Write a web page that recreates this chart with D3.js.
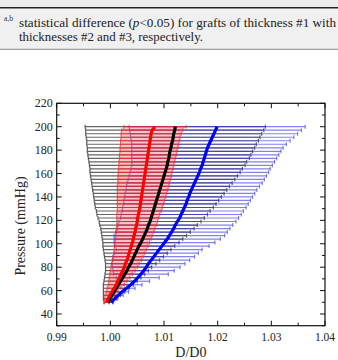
<!DOCTYPE html>
<html><head><meta charset="utf-8">
<script src="https://cdn.jsdelivr.net/npm/d3@7"></script>
<style>html,body{margin:0;padding:0;background:#fff;}svg{display:block;}</style>
</head><body>
<script>
// ---- data ----
const pressure = [50,53,56,59,62,65,68,71,74,77,80,83,86,89,92,95,98,101,104,107,110,113,116,119,122,125,128,131,134,137,140,143,146,149,152,155,158,161,164,167,170,173,176,179,182,185,188,191,194,197,200];
const blackMean = [0.9996,0.9999,1.0003,1.0007,1.0011,1.0015,1.0019,1.0023,1.0027,1.0031,1.0034,1.0038,1.0041,1.0044,1.0047,1.0050,1.0053,1.0057,1.0060,1.0063,1.0066,1.0069,1.0071,1.0074,1.0076,1.0078,1.0080,1.0082,1.0084,1.0086,1.0088,1.0090,1.0092,1.0094,1.0096,1.0098,1.0100,1.0102,1.0104,1.0106,1.0107,1.0109,1.0110,1.0111,1.0113,1.0114,1.0116,1.0117,1.0118,1.0120,1.0121];
const blackSD = [0.0008,0.0012,0.0016,0.0020,0.0024,0.0028,0.0031,0.0034,0.0037,0.0040,0.0043,0.0047,0.0051,0.0055,0.0059,0.0063,0.0067,0.0071,0.0075,0.0079,0.0083,0.0087,0.0091,0.0095,0.0099,0.0103,0.0106,0.0110,0.0113,0.0116,0.0119,0.0122,0.0125,0.0128,0.0131,0.0134,0.0137,0.0140,0.0142,0.0145,0.0147,0.0150,0.0152,0.0154,0.0156,0.0158,0.0160,0.0162,0.0164,0.0166,0.0168];
const redMean = [0.9993,0.9996,0.9999,1.0003,1.0007,1.0011,1.0014,1.0017,1.0020,1.0023,1.0026,1.0028,1.0031,1.0033,1.0035,1.0037,1.0039,1.0041,1.0043,1.0044,1.0046,1.0047,1.0049,1.0050,1.0051,1.0052,1.0054,1.0055,1.0056,1.0057,1.0058,1.0059,1.0060,1.0061,1.0062,1.0063,1.0064,1.0065,1.0066,1.0067,1.0068,1.0069,1.0070,1.0071,1.0072,1.0073,1.0074,1.0075,1.0076,1.0078,1.0083];
const redSD = [0.0004,0.0007,0.0009,0.0011,0.0013,0.0015,0.0017,0.0019,0.0021,0.0023,0.0025,0.0026,0.0027,0.0028,0.0029,0.0030,0.0031,0.0032,0.0033,0.0034,0.0035,0.0036,0.0037,0.0038,0.0039,0.0040,0.0041,0.0042,0.0043,0.0044,0.0045,0.0046,0.0047,0.0048,0.0048,0.0049,0.0050,0.0050,0.0051,0.0051,0.0052,0.0052,0.0053,0.0053,0.0054,0.0054,0.0055,0.0055,0.0056,0.0057,0.0058];
const blueMean = [1.0002,1.0008,1.0015,1.0022,1.0030,1.0038,1.0045,1.0051,1.0057,1.0062,1.0067,1.0071,1.0076,1.0081,1.0086,1.0091,1.0096,1.0101,1.0106,1.0110,1.0114,1.0118,1.0121,1.0125,1.0129,1.0132,1.0135,1.0138,1.0141,1.0143,1.0146,1.0148,1.0151,1.0154,1.0157,1.0160,1.0163,1.0166,1.0168,1.0171,1.0173,1.0175,1.0177,1.0179,1.0181,1.0184,1.0187,1.0190,1.0193,1.0196,1.0199];
const blueSD = [0.0004,0.0006,0.0009,0.0012,0.0016,0.0021,0.0028,0.0040,0.0051,0.0057,0.0063,0.0068,0.0072,0.0076,0.0078,0.0080,0.0088,0.0094,0.0099,0.0103,0.0104,0.0105,0.0107,0.0109,0.0110,0.0112,0.0113,0.0115,0.0116,0.0118,0.0119,0.0121,0.0122,0.0124,0.0126,0.0127,0.0128,0.0129,0.0130,0.0131,0.0133,0.0135,0.0137,0.0139,0.0141,0.0144,0.0148,0.0152,0.0156,0.0160,0.0164];
const xTicks = [0.99,1.00,1.01,1.02,1.03,1.04];
const yTicks = [40,60,80,100,120,140,160,180,200,220];
const captionLines = ["statistical difference (", "p", "<0.05) for grafts of thickness #1 with", "thicknesses #2 and #3, respectively."];

// ---- chart ----
const W = 338, H = 360;
const svg = d3.select("body").append("svg").attr("width", W).attr("height", H);

// caption box
svg.append("rect").attr("x",0).attr("y",0).attr("width",W).attr("height",7).attr("fill","#ebebeb");
svg.append("rect").attr("x",0).attr("y",8.5).attr("width",W).attr("height",40.5).attr("fill","#f0f0f0");
svg.append("line").attr("x1",0).attr("x2",W).attr("y1",7.8).attr("y2",7.8).attr("stroke","#222").attr("stroke-width",1.6);
svg.append("line").attr("x1",0).attr("x2",W).attr("y1",49.3).attr("y2",49.3).attr("stroke","#888").attr("stroke-width",1);
const capFont = "'Liberation Serif', serif";
svg.append("text").attr("x",4).attr("y",21).attr("font-family",capFont).attr("font-size",7.5).attr("fill","#333").text("a,b");
const t1 = svg.append("text").attr("x",19).attr("y",27.3).attr("font-family",capFont).attr("font-size",12).attr("fill","#222")
  .attr("textLength",317).attr("lengthAdjust","spacingAndGlyphs");
t1.append("tspan").text(captionLines[0]);
t1.append("tspan").attr("font-style","italic").text(captionLines[1]);
t1.append("tspan").text(captionLines[2]);
svg.append("text").attr("x",19).attr("y",40.7).attr("font-family",capFont).attr("font-size",12).attr("fill","#222")
  .attr("textLength",184).attr("lengthAdjust","spacingAndGlyphs").text(captionLines[3]);

const m = {l:56.7, r:325, t:103.3, b:325.7};
const x = d3.scaleLinear().domain([0.99,1.04]).range([m.l,m.r]);
const y = d3.scaleLinear().domain([30,220]).range([m.b,m.t]);

const plot = svg.append("g");

function series(mean, sd) { return pressure.map((p,i)=>({p, m:mean[i], s:sd[i]})); }
const S = {
  black: {data: series(blackMean, blackSD), bar:"#333", barOp:0.75, line:"#000"},
  blue:  {data: series(blueMean, blueSD), bar:"#3030e0", barOp:0.6, line:"#0000ff"},
  red:   {data: series(redMean, redSD), bar:"#ff1a1a", barOp:0.6, line:"#ff0000"}
};
function bars(key, capH) {
  const s = S[key];
  const g = plot.append("g").attr("stroke", s.bar).attr("stroke-opacity", s.barOp).attr("stroke-width", 1.2).attr("fill","none");
  g.selectAll("line.h").data(s.data).join("line").attr("class","h")
    .attr("x1", d=>x(d.m-d.s)).attr("x2", d=>x(d.m+d.s)).attr("y1", d=>y(d.p)).attr("y2", d=>y(d.p));
  g.selectAll("line.cl").data(s.data).join("line").attr("class","cl")
    .attr("x1", d=>x(d.m-d.s)).attr("x2", d=>x(d.m-d.s)).attr("y1", d=>y(d.p)-capH).attr("y2", d=>y(d.p)+capH);
  g.selectAll("line.cr").data(s.data).join("line").attr("class","cr")
    .attr("x1", d=>x(d.m+d.s)).attr("x2", d=>x(d.m+d.s)).attr("y1", d=>y(d.p)-capH).attr("y2", d=>y(d.p)+capH);
}
bars("black", 2);
bars("blue", 2);
plot.append("path").datum(S.red.data)
  .attr("d", d3.area().y(d=>y(d.p)).x0(d=>x(d.m-d.s)).x1(d=>x(d.m+d.s)))
  .attr("fill","#ff5050").attr("fill-opacity",0.35);
bars("red", 2);

const lineGen = d3.line().x(d=>x(d.m)).y(d=>y(d.p));
["blue","black","red"].forEach(k=>{
  plot.append("path").datum(S[k].data).attr("d", lineGen).attr("fill","none")
    .attr("stroke", S[k].line).attr("stroke-width", 3.2).attr("stroke-linejoin","round");
});

// axes
const font = "'Liberation Serif', 'Times New Roman', serif";
const ax = svg.append("g").attr("stroke","#111").attr("stroke-width",1);
ax.append("rect").attr("x",m.l).attr("y",m.t).attr("width",m.r-m.l).attr("height",m.b-m.t).attr("fill","none").attr("stroke-width",1.2);
const xMinor = d3.range(0, 11).map(i=>0.99+i*0.005);
const yMinor = d3.range(0, 20).map(i=>30+i*10);
xMinor.forEach((v,i)=>{
  const len = (i%2===0)?5:3;
  ax.append("line").attr("x1",x(v)).attr("x2",x(v)).attr("y1",m.b).attr("y2",m.b-len);
  ax.append("line").attr("x1",x(v)).attr("x2",x(v)).attr("y1",m.t).attr("y2",m.t+len);
});
yMinor.forEach(v=>{
  const len = (v%20===0)?5:3;
  ax.append("line").attr("x1",m.l).attr("x2",m.l+len).attr("y1",y(v)).attr("y2",y(v));
  ax.append("line").attr("x1",m.r).attr("x2",m.r-len).attr("y1",y(v)).attr("y2",y(v));
});
svg.append("g").selectAll("text").data(xTicks).join("text")
  .attr("x", d=>x(d)).attr("y", m.b+15).attr("text-anchor","middle")
  .attr("font-family",font).attr("font-size",11.5).attr("fill","#222").text(d=>d3.format(".2f")(d));
svg.append("g").selectAll("text").data(yTicks).join("text")
  .attr("x", m.l-4).attr("y", d=>y(d)+4).attr("text-anchor","end")
  .attr("font-family",font).attr("font-size",12).attr("fill","#222").text(d=>d);
svg.append("text").attr("x",(m.l+m.r)/2).attr("y",356.5).attr("text-anchor","middle")
  .attr("font-family",font).attr("font-size",14).attr("fill","#222").text("D/D0");
svg.append("text").attr("transform","translate(25,226) rotate(-90)").attr("text-anchor","middle")
  .attr("font-family",font).attr("font-size",14).attr("fill","#222").text("Pressure (mmHg)");
</script>
</body></html>
